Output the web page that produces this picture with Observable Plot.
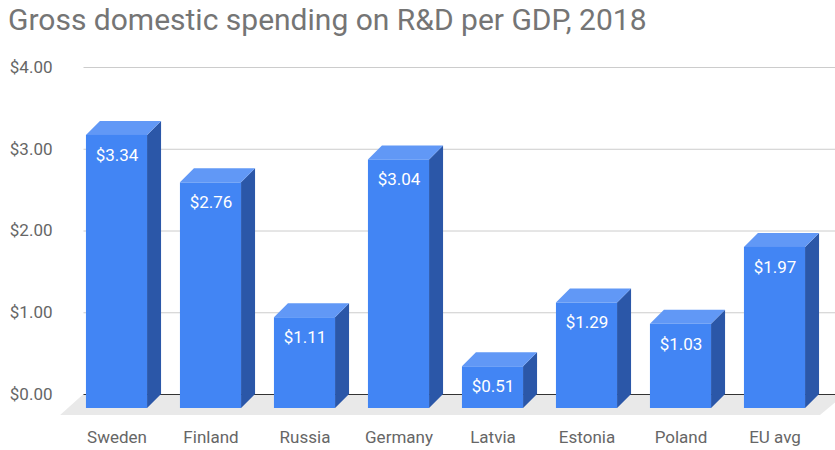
<!DOCTYPE html>
<html><head><meta charset="utf-8">
<script src="https://cdn.jsdelivr.net/npm/d3@7"></script>
<script src="https://cdn.jsdelivr.net/npm/@observablehq/plot@0.6"></script>
<style>
body{margin:0;background:#fff;font-family:Roboto,sans-serif;}
#wrap{position:relative;width:835px;height:450px;overflow:hidden;background:#fff;}
#title{position:absolute;left:8px;top:5px;font-size:30px;line-height:30px;color:#757575;white-space:nowrap;}
#chart{position:absolute;left:0;top:50px;}
</style></head><body>
<div id="wrap"><div id="title">Gross domestic spending on R&amp;D per GDP, 2018</div><div id="chart"></div></div>
<script>
const countries = ["Sweden","Finland","Russia","Germany","Latvia","Estonia","Poland","EU avg"];
const values = [3.34, 2.76, 1.11, 3.04, 0.51, 1.29, 1.03, 1.97];
const yTicks = [0, 1, 2, 3, 4];

const bars = countries.map((name, i) => ({name, i, v: values[i]}));
const HALF = 0.325;              // half bar width (x units)
const DX = 14 / 94, DY = 14 / 81.75;   // 3D depth (x units, y units)
const FLOOR_DY = 21 / 81.75;
const fmt = d3.format("$.2f");

const sides = bars.flatMap(b => [
  {name: b.name, x: b.i + HALF, y1: -DY, y2: b.v - DY},
  {name: b.name, x: b.i + HALF + DX, y1: 0, y2: b.v}
]);
const tops = bars.flatMap(b => [
  {name: b.name, y: b.v - DY, x1: b.i - HALF, x2: b.i + HALF},
  {name: b.name, y: b.v, x1: b.i - HALF + DX, x2: b.i + HALF + DX}
]);
const floor = [
  {y: -FLOOR_DY, x1: -0.6, x2: 7.484},
  {y: 0, x1: -0.5 + DX, x2: 7.75}
];

const chart = Plot.plot({
  width: 835, height: 400,
  marginTop: 17, marginBottom: 56, marginLeft: 69.5, marginRight: 13.5,
  style: {fontSize: "17px", fontFamily: "Roboto", color: "#666", background: "transparent"},
  x: {domain: [-0.5, 7.5], ticks: d3.range(countries.length), tickFormat: i => countries[i], tickSize: 0, tickPadding: 36, label: null},
  y: {domain: [0, 4], ticks: yTicks, tickFormat: fmt, tickSize: 0, tickPadding: 17.5, label: null},
  marks: [
    Plot.areaX(floor, {y: "y", x1: "x1", x2: "x2", fill: "#e9e9e9"}),
    Plot.ruleY(yTicks.filter(t => t > 0), {y: d => d, x1: () => -0.5 + DX, x2: () => 7.5 + DX, stroke: "#cccccc", strokeWidth: 1}),
    Plot.ruleY([0], {y: d => d, x1: () => -0.5 + DX, x2: () => 7.5 + DX, stroke: "#333", strokeWidth: 1.2}),
    Plot.areaY(sides, {x: "x", y1: "y1", y2: "y2", z: "name", fill: "#2b57a8"}),
    Plot.areaX(tops, {y: "y", x1: "x1", x2: "x2", z: "name", fill: "#6198f6"}),
    Plot.rect(bars, {x1: d => d.i - HALF, x2: d => d.i + HALF, y1: () => -DY, y2: d => d.v - DY, fill: "#4285f4"}),
    Plot.text(bars, {x: "i", y: d => d.v - DY, text: d => fmt(d.v), fill: "white", dy: 20, fontSize: 17})
  ]
});
document.getElementById("chart").appendChild(chart);
</script>
</body></html>
